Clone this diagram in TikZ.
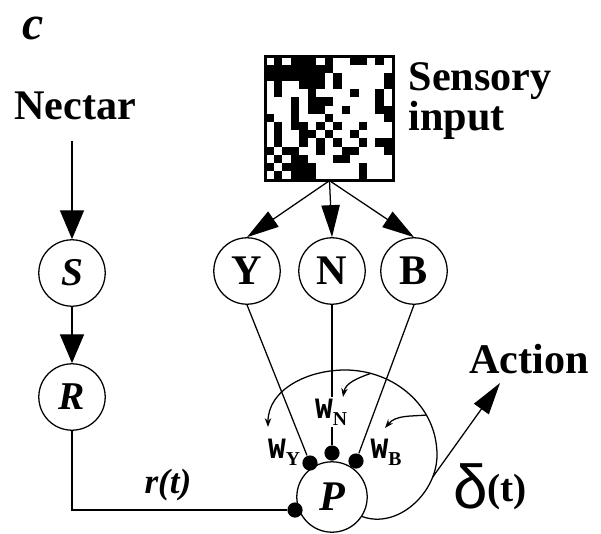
\documentclass[tikz,border=0pt]{standalone}
\usepackage{fontspec}
\setmainfont{Liberation Serif}
\newfontfamily\wfont{Liberation Mono}
\newfontfamily\deltafont{Liberation Sans}
\usetikzlibrary{arrows.meta,positioning,calc}

\begin{document}
\begin{tikzpicture}[x=0.025cm, y=-0.025cm, line width=0.9pt,
  unit/.style={draw, circle, inner sep=0pt, minimum size=1.66cm, font=\fontsize{30}{30}\selectfont\bfseries},
  dot/.style={circle, fill, inner sep=0pt, minimum size=0.38cm},
  wlabel/.style={inner sep=0pt, font=\fontsize{21}{21}\selectfont\wfont\bfseries},
  bigtip/.style={-{Triangle[length=0.72cm,width=0.6cm]}},
  fantip/.style={-{Triangle[length=0.8cm,width=0.46cm]}},
  smalltip/.style={-{Stealth[length=0.22cm,width=0.16cm]}}]
  \useasboundingbox (0,0) rectangle (601,534);

  % reward pathway
  \node[font=\fontsize{34}{34}\selectfont\bfseries\itshape] (panel) at (33,28) {c};
  \node[font=\fontsize{30}{30}\selectfont\bfseries] (nectar) at (75,106) {Nectar};
  \node[unit, font=\fontsize{28}{28}\selectfont\bfseries\itshape] (S) at (72,273) {S};
  \node[unit, font=\fontsize{28}{28}\selectfont\bfseries\itshape] (R) at (72,397) {R};
  \draw[bigtip, shorten <=0.4cm] (nectar.south -| S) -- (S);
  \draw[bigtip] (S) -- (R);

  % sensory input
  \node[inner sep=0pt, minimum width=3.175cm, minimum height=3.075cm] (grid) at (329.5,118.5) {};
  \foreach \row [count=\r from 0] in {
      {0,1,0,1,1,1,0,1,0,0,1,1,0,1,0},
      {1,1,1,1,1,1,1,1,0,0,0,0,0,0,0},
      {1,1,1,1,1,1,1,0,1,0,0,0,0,0,1},
      {0,1,0,0,1,1,1,0,1,0,0,0,0,0,1},
      {0,1,0,0,0,1,0,0,0,0,1,0,0,1,0},
      {0,0,0,1,0,1,1,1,0,0,0,0,0,1,0},
      {0,0,0,1,0,1,1,0,0,1,0,0,0,1,1},
      {1,0,0,1,0,0,0,1,0,0,0,0,0,0,1},
      {0,1,0,1,1,0,1,0,1,0,0,1,0,0,0},
      {0,1,0,0,1,1,0,1,0,0,1,0,0,0,0},
      {0,1,0,0,1,0,1,0,1,0,0,1,0,1,1},
      {1,0,1,1,0,0,1,0,0,1,1,0,0,0,1},
      {0,1,0,1,1,0,0,0,1,1,0,0,0,0,0},
      {1,0,1,1,1,1,0,0,0,0,0,1,0,0,0},
      {0,1,0,1,1,1,0,0,0,0,0,1,0,0,0}} {
    \foreach \v [count=\c from 0] in \row {
      \ifnum\v=1 \fill ($(grid.north west)+(\c*8.47,\r*8.2)$) rectangle ++(8.47,8.2); \fi
    }
  }
  \draw[line width=2.1pt] (grid.north west) rectangle (grid.south east);
  \node[font=\fontsize{30}{27}\selectfont\bfseries, align=left, anchor=west, inner sep=0pt] (sensory) at (408,101) {Sensory\\input};

  % colour units
  \node[unit] (Y) at (247,271) {Y};
  \node[unit] (N) at (332,271) {N};
  \node[unit] (B) at (414,271) {B};
  \draw[fantip] (grid.south) -- (Y.north);
  \draw[fantip] (grid.south) -- (N.north);
  \draw[fantip] (grid.south) -- (B.north);

  % predictor unit and weights
  \node[unit, minimum size=1.76cm, font=\fontsize{30}{30}\selectfont\bfseries\itshape] (P) at (332,497) {P};
  \node[dot] (dY) at (310,463) {};
  \node[dot] (dN) at (332,453) {};
  \node[dot] (dB) at (356,461) {};
  \node[dot] (dP) at (295,510) {};
  \draw (Y.south) -- (dY);
  \draw (N.south) -- (dN);
  \draw (B.south) -- (dB);
  \node[wlabel] (wY) at (284,452) {W\raisebox{-0.25em}{\fontsize{14}{14}\selectfont\rmfamily\bfseries Y}};
  \node[wlabel, fill=white, inner sep=1pt] (wN) at (331,412) {W\raisebox{-0.25em}{\fontsize{14}{14}\selectfont\rmfamily\bfseries N}};
  \node[wlabel] (wB) at (386,452) {W\raisebox{-0.25em}{\fontsize{14}{14}\selectfont\rmfamily\bfseries B}};
  \draw (R.south) |- (dP);
  \node[font=\fontsize{25}{25}\selectfont\bfseries\itshape] (rt) at (168,485) {r(t)};

  % prediction error loop
  \coordinate (loopR) at (437,455);
  \coordinate (loopT) at (345,370);
  \coordinate (tipY) at (268,427);
  \coordinate (tipN) at (343,397);
  \coordinate (tipB) at (385,428);
  \coordinate (tipA) at (500,383);
  \draw[smalltip] (P.-33) to[out=-20,in=-90] coordinate[pos=0.8] (jA) (loopR)
    to[out=90,in=0] coordinate[pos=0.3] (jB) coordinate[pos=0.82] (jN) (loopT)
    to[out=180,in=90] (tipY);
  \draw[smalltip] (jN) to[out=200,in=80] (tipN);
  \draw[smalltip] (jB) to[out=185,in=50] (tipB);
  \draw[-{Triangle[length=0.8cm,width=0.45cm]}] (jA) -- (tipA);
  \node[font=\fontsize{30}{30}\selectfont\bfseries, inner sep=0pt] (action) at (529,359) {Action};
  \node[inner sep=0pt] (delta) at (490,487) {{\deltafont\fontsize{44}{44}\selectfont δ}\raisebox{0.18cm}{\fontsize{28}{28}\selectfont\bfseries(t)}};
\end{tikzpicture}
\end{document}
